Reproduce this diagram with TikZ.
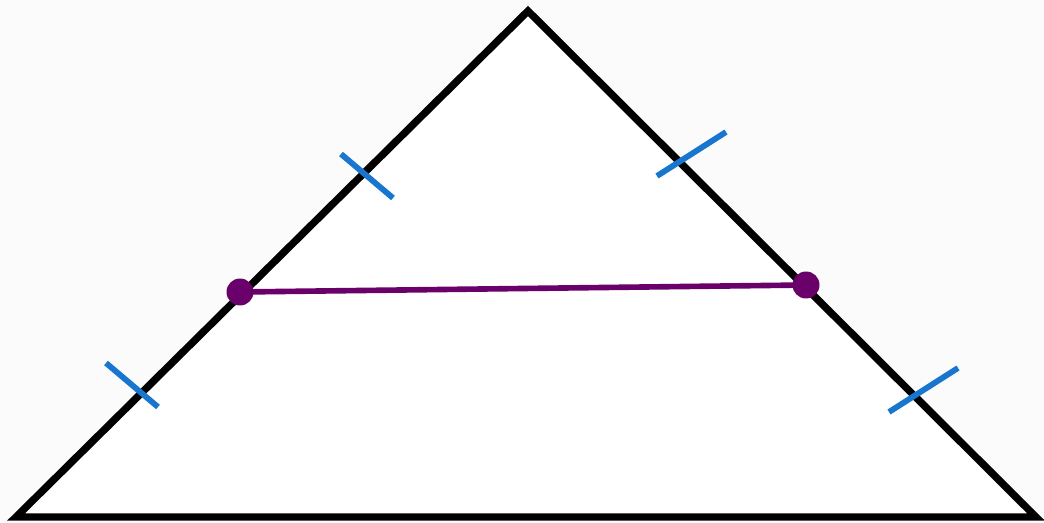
\documentclass[tikz,border=0pt]{standalone}
\usepackage{xcolor}
\usepackage{tikz}
\usetikzlibrary{positioning, calc}

\definecolor{tickblue}{RGB}{24,118,206}
\definecolor{midpurple}{RGB}{106,0,106}

\begin{document}
\begin{tikzpicture}[x=0.02cm, y=-0.02cm,
		side/.style={line width=4.2pt, line join=miter, black},
		tick/.style={line width=3.3pt, tickblue},
		midpt/.style={circle, fill=midpurple, inner sep=0pt, minimum size=0.54cm},
		midseg/.style={line width=3.2pt, midpurple}]
			% background
			\fill[white!97!gray] (0,0) rectangle (1044,523);
			\useasboundingbox (0,0) rectangle (1044,523);
			
			\coordinate (top) at (528,11);
			\coordinate (bl) at (16,517);
			\coordinate (br) at (1036,517);
			
			\fill[white] (top) -- (bl) -- (br) -- cycle;
			
			% tick marks
			\coordinate (t1a) at (341,154);
			\coordinate (t1b) at (393,198);
			\coordinate (t2a) at (106,363);
			\coordinate (t2b) at (158,407);
			\coordinate (t3a) at (657,176);
			\coordinate (t3b) at (726,132);
			\coordinate (t4a) at (889,412);
			\coordinate (t4b) at (958,368);
			
			\draw[side] (top) -- (bl) -- (br) -- cycle;
			
			\draw[tick] (t1a) -- (t1b);
			\draw[tick] (t2a) -- (t2b);
			\draw[tick] (t3a) -- (t3b);
			\draw[tick] (t4a) -- (t4b);
			
			\node[midpt] (m1) at (240,292) {};
			\node[midpt] (m2) at (806,285) {};
			\draw[midseg] (m1.center) -- (m2.center);
		\end{tikzpicture}
\end{document}
